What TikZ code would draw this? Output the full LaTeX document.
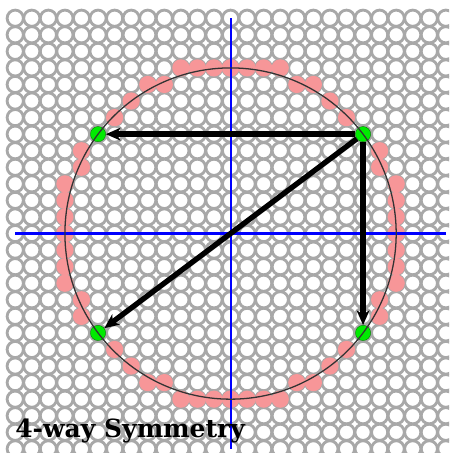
\documentclass[tikz,border=0pt]{standalone}
\usepackage{tikz}
\usepackage{fontspec}
\usetikzlibrary{arrows.meta}
\newfontfamily\capfont{DejaVu Serif}
\definecolor{gridgray}{RGB}{168,168,168}
\definecolor{pixpink}{RGB}{247,150,152}
\definecolor{pixgreen}{RGB}{0,235,0}

\begin{document}
\begin{tikzpicture}[x=0.5cm,y=0.5cm,>={Stealth[length=4.4mm,width=3.8mm,inset=1.2mm]},
 ring/.style={draw=gridgray,line width=0.085cm},
 pix/.style={fill=pixpink},
 hit/.style={circle,fill=pixgreen,draw=green!45!black,line width=0.3pt,minimum size=0.46cm,inner sep=0pt},
 axis/.style={draw=blue,line width=1.8pt},
 link/.style={->,line width=4.6pt},
 title/.style={font=\capfont\bfseries\fontsize{21.5}{24}\selectfont,anchor=base west,inner sep=0pt}]
 \fill[white] (-13.92,-13.25) rectangle (13.19,14.10);
 \useasboundingbox (-13.92,-13.25) rectangle (13.19,14.10);
 \begin{scope}
  \clip (-13.92,-13.25) rectangle (13.19,14.10);
  \foreach \i in {-13,...,13}
   \foreach \j in {-13,...,13}
    \draw[ring] (\i,\j) circle[radius=0.49];
 \end{scope}
 \foreach \a/\b in {0/10,1/10,2/10,3/10,4/9,5/9,6/8,7/7,9/4,9/5,10/0,10/1,10/2,10/3}
  \foreach \sx in {-1,1}
   \foreach \sy in {-1,1}
    \fill[pix] (\sx*\a,\sy*\b) circle[radius=0.52];
 \draw[axis] (-13,0) -- (13,0);
 \draw[axis] (0,13) -- (0,-13);
 \node[hit] (ne) at (8,6) {};
 \node[hit] (nw) at (-8,6) {};
 \node[hit] (sw) at (-8,-6) {};
 \node[hit] (se) at (8,-6) {};
 \draw[black!80,line width=1.1pt] (0,0) circle[radius=10];
 \draw[link] (ne) -- (nw);
 \draw[link] (ne) -- (se);
 \draw[link] (ne) -- (sw);
 \node[title] (caption) at (-13.01,-12.29) {4-way Symmetry};
\end{tikzpicture}
\end{document}
